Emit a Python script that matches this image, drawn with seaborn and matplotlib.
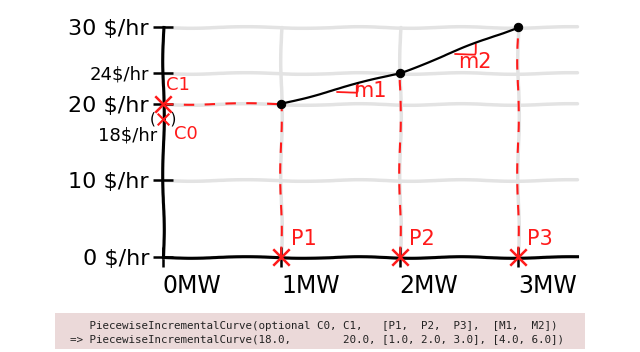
import matplotlib
matplotlib.use("Agg")
import matplotlib.pyplot as plt
import matplotlib.patches as mpatches
import seaborn as sns
import numpy as np
import pandas as pd

# ---- data ----
power_mw = [1.0, 2.0, 3.0]
cost_per_hr = [20.0, 24.0, 30.0]
c0_value = 18.0
c1_value = 20.0
slopes = [4.0, 6.0]
point_names = ["P1", "P2", "P3"]
slope_names = ["m1", "m2"]
ytick_values = [0, 10, 20, 24, 30]
ytick_labels = ["0 $/hr", "10 $/hr", "20 $/hr", "24$/hr", "30 $/hr"]
xtick_values = [0, 1, 2, 3]
xtick_labels = ["0MW", "1MW", "2MW", "3MW"]
code_line1 = "   PiecewiseIncrementalCurve(optional C0, C1,   [P1,  P2,  P3],  [M1,  M2])"
code_line2 = "=> PiecewiseIncrementalCurve(18.0,        20.0, [1.0, 2.0, 3.0], [4.0, 6.0])"

sns.set_style("white")
plt.xkcd(scale=0.8, length=120, randomness=2)
plt.rcParams["font.family"] = ["DejaVu Sans"]
plt.rcParams["path.effects"] = []

RED = "#ff1a1a"
GRID = "#e3e3e3"

fig = plt.figure(figsize=(6.4, 3.52), dpi=100)
ax = fig.add_axes([163 / 640, 95 / 352, 414 / 640, 230 / 352])
ax.set_xlim(0, 3.5)
ax.set_ylim(0, 30)

# grid
ax.set_yticks(ytick_values, ytick_labels)
ax.set_xticks(xtick_values, xtick_labels)
ax.grid(True, color=GRID, lw=2.5, zorder=0)
ax.set_axisbelow(True)
for gl in ax.get_xgridlines() + ax.get_ygridlines():
    gl.set_clip_on(False)

for s in ["top", "right"]:
    ax.spines[s].set_visible(False)
for s in ["left", "bottom"]:
    ax.spines[s].set_linewidth(2.2)
    ax.spines[s].set_color("black")

ax.tick_params(axis="both", direction="inout", length=14, width=1.8, colors="black",
               bottom=True, left=True, top=False, right=False)
ax.tick_params(axis="y", pad=3, labelsize=16)
ax.tick_params(axis="x", pad=5, labelsize=17)
for lbl in ax.get_xticklabels():
    lbl.set_horizontalalignment("left")
for lbl in ax.get_yticklabels():
    if lbl.get_text().startswith("24"):
        lbl.set_fontsize(13)

# red dashed guides
ax.hlines(c1_value, 0, power_mw[0], colors=RED, linestyles=(0, (5, 5)), lw=1.5, zorder=2)
ax.vlines(power_mw, 0, cost_per_hr, colors=RED, linestyles=(0, (5, 5)), lw=1.5, zorder=2)

# curve
df = pd.DataFrame({"power": power_mw, "cost": cost_per_hr})
sns.lineplot(data=df, x="power", y="cost", color="black", lw=1.6, ax=ax,
             marker="o", markersize=6, markeredgecolor="black", zorder=4, clip_on=False)

# red x markers
mk = pd.DataFrame({"x": [0.0] + power_mw, "y": [c1_value, 0.0, 0.0, 0.0]})
sns.scatterplot(data=mk, x="x", y="y", marker="x", s=140, color=RED, linewidth=1.8,
                ax=ax, zorder=5, clip_on=False)
sns.scatterplot(x=[0.0], y=[c0_value], marker="x", s=70, color=RED, linewidth=1.5,
                ax=ax, zorder=5, clip_on=False)
ax.set_xlabel("")
ax.set_ylabel("")

# slope triangles
for i in range(len(slopes)):
    x0 = power_mw[i] + 0.47
    x1 = power_mw[i] + 0.64
    y0 = cost_per_hr[i] + slopes[i] * 0.47
    y1 = cost_per_hr[i] + slopes[i] * 0.64
    ax.plot([x0, x1, x1], [y0 - 0.4, y0 - 0.4, y1], color=RED, lw=1.3, zorder=3)
ax.text(1.75, 21.6, slope_names[0], color=RED, fontsize=15, ha="center", va="center")
ax.text(2.64, 25.5, slope_names[1], color=RED, fontsize=15, ha="center", va="center")

# point labels
for px, name in zip(power_mw, point_names):
    ax.text(px + 0.19, 2.3, name, color=RED, fontsize=15, ha="center", va="center")

ax.text(0.13, 22.4, "C1", color=RED, fontsize=13, ha="center", va="center")
ax.text(0.19, 16.0, "C0", color=RED, fontsize=13, ha="center", va="center")
ax.text(0.0, 18.0, "(   )", color="black", fontsize=11, ha="center", va="center")
ax.text(-0.05, 15.9, "18$/hr", color="black", fontsize=13, ha="right", va="center")

# code box
rect = mpatches.Rectangle((55 / 640, 3 / 352), 530 / 640, 36 / 352, transform=fig.transFigure,
                          facecolor="#ebd9d9", edgecolor="none", zorder=0)
rect.set_sketch_params(None)
rect.set_path_effects([])
fig.patches.append(rect)
fig.text(70 / 640, 1 - 326 / 352, code_line1, family="DejaVu Sans Mono", fontsize=7.8,
         color="#222222", ha="left", va="center")
fig.text(70 / 640, 1 - 339 / 352, code_line2, family="DejaVu Sans Mono", fontsize=7.8,
         color="#222222", ha="left", va="center")

fig.savefig("out.png", dpi=100)
